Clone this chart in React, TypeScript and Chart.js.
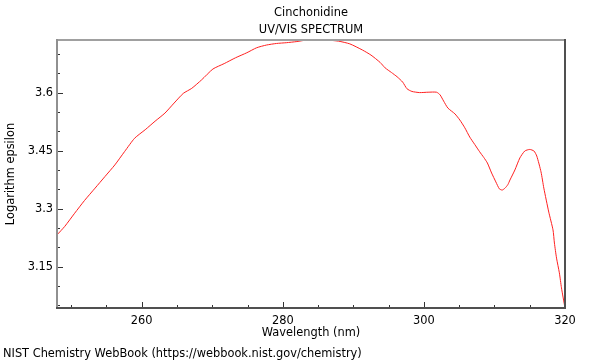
import React, { useEffect, useRef } from "react";
import { Chart, registerables } from "chart.js";

Chart.register(...registerables);

const TITLE = "Cinchonidine";
const SUBTITLE = "UV/VIS SPECTRUM";
const X_TITLE = "Wavelength (nm)";
const Y_TITLE = "Logarithm epsilon";
const FOOTER = "NIST Chemistry WebBook (https://webbook.nist.gov/chemistry)";

const WAVELENGTH = [
  248.0, 249.1, 250.5, 251.9, 253.4, 254.8, 256.2, 257.6, 259.0, 260.5,
  261.9, 263.3, 264.6, 265.9, 267.1, 268.5, 270.1, 271.7, 273.3, 274.9,
  276.3, 277.7, 279.1, 280.5, 282.0, 283.4, 284.8, 286.2, 287.9, 289.5,
  291.3, 292.5, 293.8, 294.5, 295.4, 296.2, 297.0, 297.6, 298.3, 299.4,
  300.6, 301.8, 302.3, 302.8, 303.4, 304.4, 305.1, 305.8, 306.5, 307.2,
  307.9, 308.5, 309.0, 309.6, 310.2, 310.7, 311.1, 311.5, 311.9, 312.2,
  312.9, 313.6, 314.3, 315.0, 315.6, 316.0, 316.6, 317.0, 317.7, 318.3,
  318.5, 318.8, 319.2, 319.5, 320.0,
];

const LOG_EPSILON = [
  3.232, 3.254, 3.288, 3.321, 3.353, 3.383, 3.413, 3.448, 3.482, 3.504,
  3.526, 3.547, 3.573, 3.598, 3.611, 3.633, 3.661, 3.675, 3.690, 3.703,
  3.716, 3.723, 3.727, 3.729, 3.732, 3.736, 3.737, 3.736, 3.733, 3.726,
  3.710, 3.697, 3.678, 3.664, 3.652, 3.641, 3.627, 3.610, 3.603, 3.600,
  3.601, 3.601, 3.594, 3.578, 3.560, 3.545, 3.529, 3.509, 3.485, 3.466,
  3.447, 3.432, 3.418, 3.392, 3.369, 3.351, 3.348, 3.353, 3.362, 3.374,
  3.400, 3.431, 3.449, 3.453, 3.449, 3.436, 3.395, 3.353, 3.291, 3.245,
  3.211, 3.172, 3.134, 3.095, 3.043,
];

const X_TICKS = [260, 280, 300, 320];
const X_TICK_LABELS = ["260", "280", "300", "320"];
const X_MINOR = [250, 255, 265, 270, 275, 285, 290, 295, 305, 310, 315];
const Y_TICKS = [3.15, 3.3, 3.45, 3.6];
const Y_TICK_LABELS = ["3.15", "3.3", "3.45", "3.6"];
const Y_MINOR = [3.05, 3.1, 3.2, 3.25, 3.35, 3.4, 3.5, 3.55, 3.65, 3.7];

const X_MIN = 248;
const X_MAX = 320;
const Y_MIN = 3.043;
const Y_MAX = 3.736;

const FONT_SIZE = 11.4;
const FONT = `${FONT_SIZE}px 'DejaVu Sans'`;

const framePlugin = {
  id: "frame",
  afterDatasetsDraw(chart: any) {
    const { ctx, chartArea, scales } = chart;
    const { left, right, top, bottom } = chartArea;
    const xs = scales.x;
    const ys = scales.y;
    ctx.save();
    ctx.strokeStyle = "#333";
    ctx.lineWidth = 1;
    ctx.beginPath();
    X_TICKS.forEach((v) => {
      const px = Math.round(xs.getPixelForValue(v)) + 0.5;
      ctx.moveTo(px, bottom);
      ctx.lineTo(px, bottom - 6);
    });
    X_MINOR.forEach((v) => {
      const px = Math.round(xs.getPixelForValue(v)) + 0.5;
      ctx.moveTo(px, bottom);
      ctx.lineTo(px, bottom - 3);
    });
    Y_TICKS.forEach((v) => {
      const py = Math.round(ys.getPixelForValue(v)) + 0.5;
      ctx.moveTo(left, py);
      ctx.lineTo(left + 6, py);
    });
    Y_MINOR.forEach((v) => {
      const py = Math.round(ys.getPixelForValue(v)) + 0.5;
      ctx.moveTo(left, py);
      ctx.lineTo(left + 3, py);
    });
    ctx.stroke();
    ctx.lineWidth = 2;
    ctx.strokeStyle = "#a0a0a0";
    ctx.beginPath();
    ctx.moveTo(left, top);
    ctx.lineTo(right, top);
    ctx.stroke();
    ctx.strokeStyle = "#909090";
    ctx.beginPath();
    ctx.moveTo(left, top - 1);
    ctx.lineTo(left, bottom);
    ctx.stroke();
    ctx.strokeStyle = "#505050";
    ctx.beginPath();
    ctx.moveTo(right, top - 1);
    ctx.lineTo(right, bottom + 1);
    ctx.moveTo(left - 1, bottom);
    ctx.lineTo(right + 1, bottom);
    ctx.stroke();
    ctx.restore();
  },
  afterDraw(chart: any) {
    const { ctx, chartArea } = chart;
    const cx = (chartArea.left + chartArea.right) / 2;
    const cy = (chartArea.top + chartArea.bottom) / 2;
    ctx.save();
    ctx.fillStyle = "#000";
    ctx.font = FONT;
    ctx.textBaseline = "middle";
    ctx.textAlign = "center";
    ctx.fillText(TITLE, cx, 13.5);
    ctx.fillText(SUBTITLE, cx, 30.5);
    ctx.fillText(X_TITLE, cx, 333);
    ctx.textAlign = "left";
    ctx.fillText(FOOTER, 3, 354);
    ctx.translate(11, cy);
    ctx.rotate(-Math.PI / 2);
    ctx.textAlign = "center";
    ctx.fillText(Y_TITLE, 0, 0);
    ctx.restore();
  },
};

export default function App() {
  const canvasRef = useRef<HTMLCanvasElement | null>(null);

  useEffect(() => {
    if (!canvasRef.current) return;
    const points = WAVELENGTH.map((x, i) => ({ x, y: LOG_EPSILON[i] }));
    const chart = new Chart(canvasRef.current, {
      type: "line",
      data: {
        datasets: [
          {
            data: points,
            borderColor: "#ff2020",
            borderWidth: 1,
            pointRadius: 0,
            fill: false,
            tension: 0.2,
          },
        ],
      },
      options: {
        animation: false,
        responsive: true,
        maintainAspectRatio: false,
        layout: { padding: { top: 40, right: 35, left: 0, bottom: 0 } },
        plugins: {
          legend: { display: false },
          title: { display: false },
          tooltip: { enabled: false },
        },
        scales: {
          x: {
            type: "linear",
            min: X_MIN,
            max: X_MAX,
            grid: { display: false, drawTicks: false },
            border: { display: false },
            afterBuildTicks: (s: any) => {
              s.ticks = X_TICKS.map((v) => ({ value: v }));
            },
            afterFit: (s: any) => {
              s.height = 52;
            },
            ticks: {
              padding: 6,
              maxRotation: 0,
              color: "#000",
              font: { family: "'DejaVu Sans'", size: FONT_SIZE },
              callback: (v: any) => {
                const i = X_TICKS.indexOf(Number(v));
                return i >= 0 ? X_TICK_LABELS[i] : "";
              },
            },
          },
          y: {
            type: "linear",
            min: Y_MIN,
            max: Y_MAX,
            grid: { display: false, drawTicks: false },
            border: { display: false },
            afterBuildTicks: (s: any) => {
              s.ticks = Y_TICKS.map((v) => ({ value: v }));
            },
            afterFit: (s: any) => {
              s.width = 57;
            },
            ticks: {
              padding: 4,
              color: "#000",
              font: { family: "'DejaVu Sans'", size: FONT_SIZE },
              callback: (v: any) => {
                const i = Y_TICKS.findIndex((t) => Math.abs(t - Number(v)) < 1e-6);
                return i >= 0 ? Y_TICK_LABELS[i] : "";
              },
            },
          },
        },
      },
      plugins: [framePlugin],
    });
    return () => chart.destroy();
  }, []);

  return (
    <div style={{ position: "fixed", left: 0, top: 0, width: 600, height: 360, background: "#fff" }}>
      <canvas ref={canvasRef} />
    </div>
  );
}
